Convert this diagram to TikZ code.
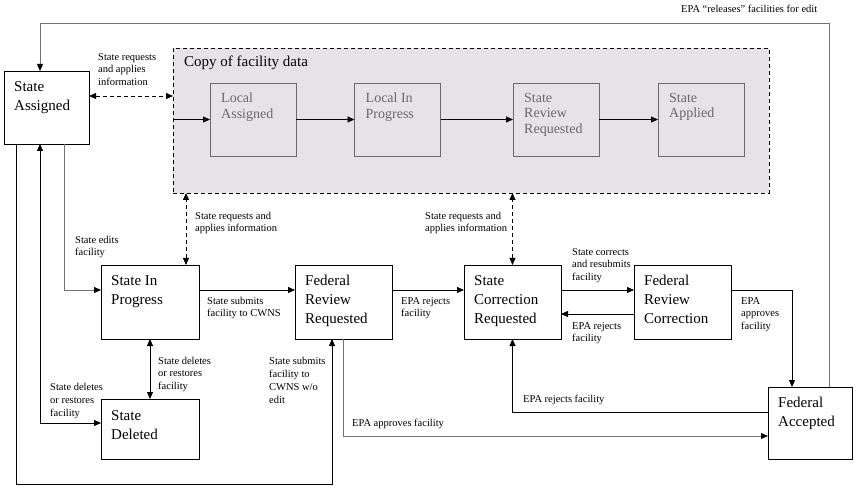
\documentclass[tikz,border=0pt]{standalone}
\usepackage{fontspec}
\setmainfont{Liberation Serif}
\usepackage{xcolor}
\usetikzlibrary{arrows.meta}
\definecolor{copyfill}{RGB}{230,226,230}
\definecolor{copygray}{RGB}{105,105,105}
\tikzset{
  >={Triangle[length=7pt,width=6pt]},
  statebox/.style={draw, line width=0.8pt, inner sep=0pt, outer sep=0pt},
  boxlabel/.style={anchor=north west, inner sep=0pt, align=left, font=\fontsize{15}{19}\selectfont, xshift=10pt, yshift=-10pt},
  groupbox/.style={draw, dash pattern=on 4pt off 3pt, fill=copyfill, line width=0.9pt, inner sep=0pt, outer sep=0pt},
  copybox/.style={draw=copygray, line width=0.8pt, inner sep=0pt, outer sep=0pt, minimum width=86pt, minimum height=73pt},
  copylabel/.style={anchor=north west, inner sep=0pt, align=left, text=copygray, font=\fontsize{14}{15.5}\selectfont, xshift=11pt, yshift=-10pt},
  note/.style={anchor=north west, inner sep=0pt, align=left, font=\fontsize{10.5}{12.5}\selectfont},
  arrow/.style={->, line width=0.8pt},
  grayarrow/.style={>={Triangle[length=7pt,width=6pt,black]}, ->, line width=0.8pt, draw=black!55},
  dashedarrow/.style={<->, line width=0.8pt, dash pattern=on 4pt off 3pt}
}

\begin{document}
\begin{tikzpicture}[x=1pt, y=-1pt]
\useasboundingbox (0,0) rectangle (868,489);

% Copy of facility data
\node[groupbox, minimum width=596pt, minimum height=145pt, label={[boxlabel, xshift=1pt, yshift=2pt]north west:Copy of facility data}] (grp) at (471,120.5) {};
\node[copybox, label={[copylabel]north west:Local\\Assigned}] (LA) at (253,119.5) {};
\node[copybox, label={[copylabel]north west:Local In\\Progress}] (LIP) at (397.5,119.5) {};
\node[copybox, label={[copylabel]north west:State\\Review\\Requested}] (SRR) at (556,119.5) {};
\node[copybox, label={[copylabel]north west:State\\Applied}] (SAP) at (701,119.5) {};

% States
\node[statebox, minimum width=85pt, minimum height=73pt, label={[boxlabel]north west:State\\Assigned}] (SA) at (46.5,107.5) {};
\node[statebox, minimum width=98pt, minimum height=74pt, label={[boxlabel]north west:State In\\Progress}] (SIP) at (150,302) {};
\node[statebox, minimum width=98pt, minimum height=60pt, label={[boxlabel, yshift=-1pt]north west:State\\Deleted}] (SD) at (150,429) {};
\node[statebox, minimum width=97pt, minimum height=74pt, label={[boxlabel]north west:Federal\\Review\\Requested}] (FRR) at (343.5,302) {};
\node[statebox, minimum width=97pt, minimum height=74pt, label={[boxlabel]north west:State\\Correction\\Requested}] (SCR) at (512.5,302) {};
\node[statebox, minimum width=97pt, minimum height=74pt, label={[boxlabel]north west:Federal\\Review\\Correction}] (FRC) at (682.5,302) {};
\node[statebox, minimum width=84pt, minimum height=72pt, label={[boxlabel]north west:Federal\\Accepted}] (FA) at (810,423) {};

\coordinate (top) at (0,23);
\coordinate (bottom) at (0,484);

% Connections
\draw[grayarrow] ([xshift=19pt]FA.north) -- ([xshift=19pt]FA.north |- top) -| ([xshift=-6.5pt]SA.north);
\draw[dashedarrow] ([yshift=11.5pt]SA.east) -- ([yshift=11.5pt]SA.east -| grp.west);
\draw[arrow] (LA.west -| grp.west) -- (LA.west);
\draw[arrow] (LA) -- (LIP);
\draw[arrow] (LIP) -- (SRR);
\draw[arrow] (SRR) -- (SAP);
\draw[dashedarrow] ([xshift=36pt]SIP.north) -- ([xshift=36pt]SIP.north |- grp.south);
\draw[dashedarrow] (SCR.north) -- (SCR.north |- grp.south);
\draw[grayarrow] ([xshift=17.5pt]SA.south) |- ([yshift=12pt]SIP.west);
\draw[arrow, <->] ([xshift=-6.5pt]SA.south) |- ([yshift=6pt]SD.west);
\draw[arrow] ([xshift=-30.5pt]SA.south) -- ([xshift=-30.5pt]SA.south |- bottom) -| ([xshift=-11.5pt]FRR.south);
\draw[arrow] ([yshift=12pt]SIP.east) -- ([yshift=12pt]FRR.west);
\draw[arrow, <->] (SIP) -- (SD);
\draw[arrow] ([yshift=12pt]FRR.east) -- ([yshift=12pt]SCR.west);
\draw[grayarrow] (FRR.south) |- ([yshift=-13pt]FA.west);
\draw[arrow] ([yshift=12pt]SCR.east) -- ([yshift=12pt]FRC.west);
\draw[arrow] ([yshift=-12pt]FRC.west) -- ([yshift=-12pt]SCR.east);
\draw[arrow] ([yshift=12pt]FRC.east) -| ([xshift=-18pt]FA.north);
\draw[arrow] ([yshift=11pt]FA.west) -| (SCR.south);

% Labels
\node[note] (nrelease) at (681,5) {EPA “releases” facilities for edit};
\node[note] (nSAgrp) at (98,53) {State requests\\and applies\\information};
\node[note] (nSIPgrp) at (195,212) {State requests and\\applies information};
\node[note] (nSCRgrp) at (425,212) {State requests and\\applies information};
\node[note] (nedit) at (75,236) {State edits\\facility};
\node[note] (nsubmit) at (207,297) {State submits\\facility to CWNS};
\node[note] (ndelete) at (158,357) {State deletes\\or restores\\facility};
\node[note, font=\fontsize{10.5}{13}\selectfont] (ndeleteSA) at (50,383) {State deletes\\or restores\\facility};
\node[note, font=\fontsize{10.5}{13}\selectfont] (nsubmitwo) at (269,357) {State submits\\facility to\\CWNS w/o\\edit};
\node[note] (nrejectFRR) at (401,297) {EPA rejects\\facility};
\node[note] (napproveFRR) at (352,419) {EPA approves facility};
\node[note] (ncorrect) at (572,248) {State corrects\\and resubmits\\facility};
\node[note] (nrejectFRC) at (572,322) {EPA rejects\\facility};
\node[note] (napproveFRC) at (741,297) {EPA\\approves\\facility};
\node[note] (nrejectFA) at (523,395) {EPA rejects facility};

\end{tikzpicture}
\end{document}
